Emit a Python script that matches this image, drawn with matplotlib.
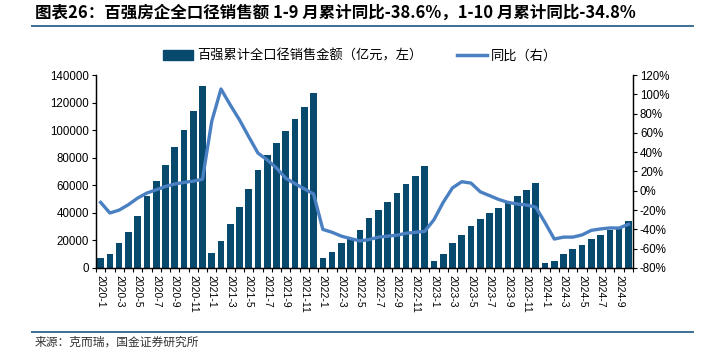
import matplotlib

matplotlib.use("Agg")
import matplotlib.pyplot as plt  # noqa: E402
import numpy as np  # noqa: E402
from matplotlib.lines import Line2D  # noqa: E402

# months 2020-1 .. 2024-10
months = [f"{y}-{m}" for y in range(2020, 2025) for m in range(1, 13)][:58]

# cumulative full-caliber sales of top-100 developers (亿元)
sales = [7000, 9900, 17900, 26300, 37900, 52000, 63300, 74500, 87700, 99800, 114100, 131700,
         10600, 19300, 31700, 44000, 57000, 71300, 81700, 90400, 99100, 107800, 116700, 127100,
         7000, 11600, 17900, 22000, 27300, 36000, 42000, 47600, 54600, 60700, 66900, 73700,
         5300, 9900, 17900, 23900, 30200, 35300, 39600, 43200, 47400, 52000, 56300, 61400,
         3900, 5300, 9900, 13500, 16900, 21300, 23900, 27600, 29500, 34300]

# yoy (%)
yoy = [-12, -23, -20, -14.4, -7.5, -2.3, 1, 4.5, 7, 8.7, 10, 12,
       72, 105.5, 89, 73.5, 56, 39, 32, 23.5, 13, 7.3, 2, -3.3,
       -40, -43, -47, -49.5, -52, -50.5, -48, -47, -46, -44, -43, -42,
       -30, -12, 3, 9.4, 8, -1, -5, -9, -12, -13.7, -14.7, -17,
       -33, -50, -48, -48, -45.7, -41, -39.5, -38.5, -38.6, -34.8]

BAR_C = "#074a6e"
LINE_C = "#4a80c2"
RULE_C = "#3d6f93"
CJK = ["Noto Sans CJK SC", "DejaVu Sans"]
LAT = ["Liberation Sans", "Noto Sans CJK SC"]

W, H = 701, 350
fig = plt.figure(figsize=(W / 100, H / 100), dpi=100)
ax = fig.add_axes([96 / W, 1 - 268 / H, (633 - 96) / W, (268 - 75) / H])
ax2 = ax.twinx()

x = np.arange(len(months))
ax.bar(x, sales, width=0.72, color=BAR_C, zorder=2)
ax2.plot(x, yoy, color=LINE_C, lw=2.4, solid_joinstyle="round", zorder=3)

ax.set_xlim(-0.5, len(months) - 0.5)
ax.set_ylim(0, 140000)
ax.set_yticks(range(0, 140001, 20000))
ax2.set_ylim(-80, 120)
ax2.set_yticks(range(-80, 121, 20))
ax2.set_yticklabels([f"{v}%" for v in range(-80, 121, 20)])

ax.set_xticks(x[::2])
ax.set_xticklabels(months[::2], rotation=-90, fontsize=7.5, family=LAT)
ax.set_xticks(np.arange(-0.5, len(months), 1), minor=True)
ax.tick_params(axis="x", which="major", length=0, pad=5)
ax.tick_params(axis="x", which="minor", length=3, width=0.8)
ax.tick_params(axis="y", length=3, width=0.8, labelsize=8.3, pad=2)
ax2.tick_params(axis="y", length=3, width=0.8, labelsize=8.3, pad=2)
for lab in ax.get_yticklabels() + ax2.get_yticklabels():
    lab.set_family(LAT)

for a in (ax, ax2):
    a.spines["top"].set_visible(False)
    for s in ("left", "right", "bottom"):
        a.spines[s].set_linewidth(0.9)

# title + rules
fig.text(35 / W, 1 - 13 / H,
         "图表26：百强房企全口径销售额 1-9 月累计同比-38.6%，1-10 月累计同比-34.8%",
         fontsize=11.9, fontweight="bold", style="italic", family=CJK,
         ha="left", va="center")
fig.add_artist(Line2D([32 / W, 693 / W], [1 - 26 / H, 1 - 26 / H], color=RULE_C, lw=1.4))
fig.add_artist(Line2D([32 / W, 693 / W], [1 - 332 / H, 1 - 332 / H], color=RULE_C, lw=1.4))
fig.text(35 / W, 1 - 342 / H, "来源：克而瑞，国金证券研究所", fontsize=8.5,
         family=CJK, color="#333333", ha="left", va="center")

handles = [plt.Rectangle((0, 0), 1, 1, color=BAR_C),
           Line2D([], [], color=LINE_C, lw=2.5)]
fig.legend(handles, ["百强累计全口径销售金额（亿元，左）", "同比（右）"],
           loc="center", bbox_to_anchor=(360 / W, 1 - 56 / H), ncol=2,
           frameon=False, prop={"family": CJK, "size": 9.5},
           handlelength=2.3, handleheight=0.75, columnspacing=2.6, handletextpad=0.3)

fig.savefig("out.png", dpi=100)
